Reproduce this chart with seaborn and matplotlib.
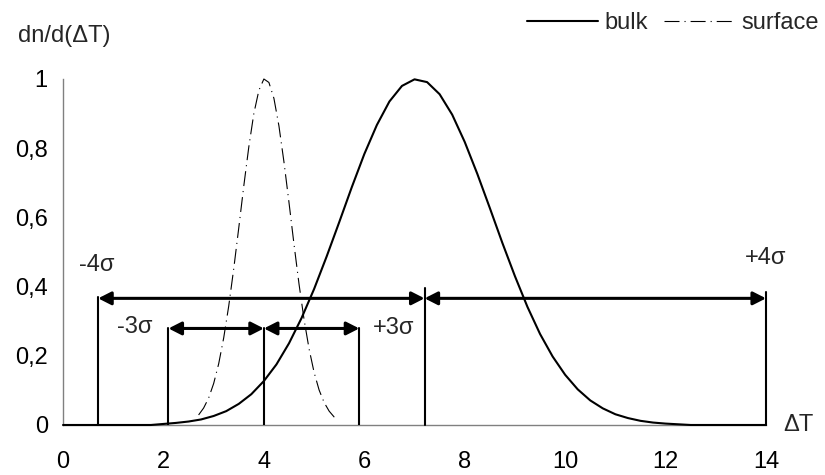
import numpy as np
import pandas as pd
import seaborn as sns
import matplotlib
matplotlib.use("Agg")
import matplotlib.pyplot as plt
from matplotlib.ticker import FuncFormatter
from matplotlib.patches import ArrowStyle

# ---- data -----------------------------------------------------------------
bulk_x = [0.0, 0.25, 0.5, 0.75, 1.0, 1.25, 1.5, 1.75, 2.0, 2.25, 2.5, 2.75,
          3.0, 3.25, 3.5, 3.75, 4.0, 4.25, 4.5, 4.75, 5.0, 5.25, 5.5, 5.75,
          6.0, 6.25, 6.5, 6.75, 7.0, 7.25, 7.5, 7.75, 8.0, 8.25, 8.5, 8.75,
          9.0, 9.25, 9.5, 9.75, 10.0, 10.25, 10.5, 10.75, 11.0, 11.25, 11.5,
          11.75, 12.0, 12.25, 12.5, 12.75, 13.0, 13.25, 13.5, 13.75, 14.0]
bulk_y = [0.0, 0.0, 0.0, 0.0, 0.0, 0.0, 0.0, 0.0, 0.003, 0.006, 0.010, 0.016,
          0.026, 0.040, 0.061, 0.089, 0.127, 0.175, 0.236, 0.309, 0.393, 0.487,
          0.586, 0.687, 0.783, 0.867, 0.935, 0.980, 0.999, 0.991, 0.956, 0.897,
          0.818, 0.726, 0.627, 0.526, 0.430, 0.341, 0.263, 0.198, 0.145, 0.103,
          0.071, 0.048, 0.031, 0.020, 0.012, 0.007, 0.004, 0.002, 0.0, 0.0,
          0.0, 0.0, 0.0, 0.0, 0.0]

surface_x = [2.7, 2.8, 2.9, 3.0, 3.1, 3.2, 3.3, 3.4, 3.5, 3.6, 3.7, 3.8, 3.9,
             4.0, 4.1, 4.2, 4.3, 4.4, 4.5, 4.6, 4.7, 4.8, 4.9, 5.0, 5.1, 5.2,
             5.3, 5.4, 5.45]
surface_y = [0.029, 0.049, 0.078, 0.120, 0.177, 0.252, 0.344, 0.452, 0.570,
             0.691, 0.804, 0.900, 0.967, 1.0, 0.990, 0.944, 0.864, 0.760,
             0.643, 0.522, 0.407, 0.305, 0.220, 0.152, 0.101, 0.065, 0.040,
             0.023, 0.018]

# sigma limits marked under the curves
bulk_bounds = [0.7, 7.2, 14.0]      # -4 sigma, centre, +4 sigma
surface_bounds = [2.1, 4.0, 5.9]    # -3 sigma, centre, +3 sigma

x_ticks = [0, 2, 4, 6, 8, 10, 12, 14]
y_ticks = [0, 0.2, 0.4, 0.6, 0.8, 1.0]

# ---- style ----------------------------------------------------------------
sns.set_theme(style="white")
plt.rcParams["font.family"] = ["Liberation Sans", "DejaVu Sans"]
FS = 17
GREY = "#808080"

fig = plt.figure(figsize=(8.25, 4.75), dpi=100)
ax = fig.add_axes([0.0764, 0.1053, 0.9285 - 0.0764, 0.8337 - 0.1053])

bulk_df = pd.DataFrame({"x": bulk_x, "y": bulk_y})
surf_df = pd.DataFrame({"x": surface_x, "y": surface_y})

sns.lineplot(data=bulk_df, x="x", y="y", ax=ax, color="black", lw=1.5,
             label="bulk", clip_on=False, zorder=4)
sns.lineplot(data=surf_df, x="x", y="y", ax=ax, color="black", lw=0.8,
             label="surface", clip_on=False, zorder=4,
             linestyle=(0, (13.5, 4.5, 1, 4.5)))

ax.set_xlim(0, 14)
ax.set_ylim(0, 1)
ax.set_xticks(x_ticks)
ax.set_yticks(y_ticks)
ax.yaxis.set_major_formatter(
    FuncFormatter(lambda v, p: f"{v:g}".replace(".", ",")))
ax.set_xlabel("")
ax.set_ylabel("")

for side in ("top", "right"):
    ax.spines[side].set_visible(False)
for side in ("left", "bottom"):
    ax.spines[side].set_color(GREY)
    ax.spines[side].set_linewidth(1.0)
ax.tick_params(axis="both", which="major", direction="out", length=6,
               width=1.0, color=GREY, labelsize=FS, labelcolor="black")
ax.tick_params(axis="x", pad=13)
ax.tick_params(axis="y", pad=5)

# ---- sigma markers --------------------------------------------------------
head = ArrowStyle("<|-|>", head_length=0.55, head_width=0.28)
arrow_kw = dict(arrowstyle=head, color="black", lw=2.2, mutation_scale=14,
                shrinkA=0, shrinkB=0)

y_bulk, y_surf = 0.366, 0.279
vtops_bulk = [0.37, 0.395, 0.385]
for xv, top in zip(bulk_bounds, vtops_bulk):
    ax.plot([xv, xv], [0, top], color="black", lw=1.5, zorder=3,
            clip_on=False)
for xv in surface_bounds:
    ax.plot([xv, xv], [0, y_surf], color="black", lw=1.5, zorder=3)

for a, b in zip(bulk_bounds[:-1], bulk_bounds[1:]):
    ax.annotate("", xy=(b, y_bulk), xytext=(a, y_bulk), arrowprops=arrow_kw,
                zorder=5)
for a, b in zip(surface_bounds[:-1], surface_bounds[1:]):
    ax.annotate("", xy=(b, y_surf), xytext=(a, y_surf), arrowprops=arrow_kw,
                zorder=5)

ax.text(0.68, 0.462, "-4σ", fontsize=FS, ha="center", va="center")
ax.text(14.0, 0.482, "+4σ", fontsize=FS, ha="center", va="center")
ax.text(1.43, 0.283, "-3σ", fontsize=FS, ha="center", va="center")
ax.text(6.58, 0.281, "+3σ", fontsize=FS, ha="center", va="center")

# ---- axis titles ----------------------------------------------------------
fig.text(18 / 825, 1 - 36 / 475, "dn/d(ΔT)", fontsize=FS, ha="left",
         va="center")
ax.text(14.35, 0.0, "ΔT", fontsize=FS, ha="left", va="center")

# ---- legend ---------------------------------------------------------------
ax.get_legend().remove()
handles, labels = ax.get_legend_handles_labels()
fig.legend(handles, labels, loc="upper right", ncol=2, frameon=False,
           fontsize=FS, handlelength=3.0, handletextpad=0.3,
           columnspacing=0.65, bbox_to_anchor=(1.0, 1.0 - 6 / 475),
           borderaxespad=0.0, borderpad=0.25)

fig.savefig("out.png", dpi=100)
